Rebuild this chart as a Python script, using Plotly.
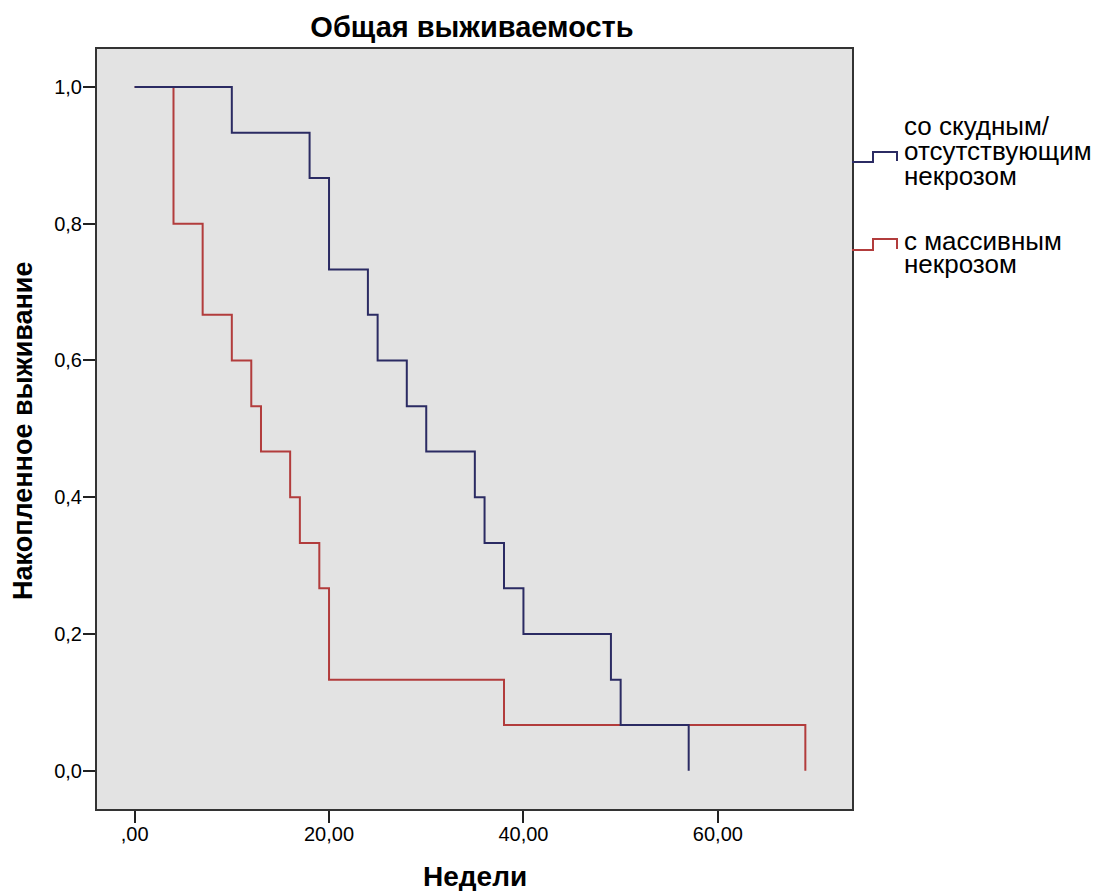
import plotly.graph_objects as go

# ---- data ----
weeks_scant = [0, 10, 18, 20, 24, 25, 28, 30, 35, 36, 38, 40, 49, 50, 57]
surv_scant = [1.0, 0.933, 0.867, 0.733, 0.667, 0.600, 0.533, 0.467, 0.400, 0.333, 0.267, 0.200, 0.133, 0.067, 0.0]

weeks_massive = [0, 4, 7, 10, 12, 13, 16, 17, 19, 20, 38, 69]
surv_massive = [1.0, 0.800, 0.667, 0.600, 0.533, 0.467, 0.400, 0.333, 0.267, 0.133, 0.067, 0.0]

x_tickvals = [0, 20, 40, 60]
x_ticktext = [",00", "20,00", "40,00", "60,00"]
y_tickvals = [0.0, 0.2, 0.4, 0.6, 0.8, 1.0]
y_ticktext = ["0,0", "0,2", "0,4", "0,6", "0,8", "1,0"]

name_scant = ["со скудным/", "отсутствующим", "некрозом"]
name_massive = ["с массивным", "некрозом"]

BLUE = "#2b2b63"
RED = "#b23c3c"
FONT = "Liberation Sans, Arial, sans-serif"

# page body has an 8px margin; work in window pixels
OFF = 8
W, H = 1106 - OFF, 891 - OFF
PL, PR, PT, PB = 97, 852, 49, 809          # plot box in window pixels
L, R, T, B = PL - OFF, W - (PR - OFF), PT - OFF, H - (PB - OFF)


def px(x):
    return (x - PL) / (PR - PL)


def py(y):
    return (PB - y) / (PB - PT)


fig = go.Figure()
fig.add_trace(go.Scatter(x=weeks_massive, y=surv_massive, mode="lines",
                         line=dict(color=RED, width=2, shape="hv"),
                         showlegend=False, hoverinfo="skip"))
fig.add_trace(go.Scatter(x=weeks_scant, y=surv_scant, mode="lines",
                         line=dict(color=BLUE, width=2, shape="hv"),
                         showlegend=False, hoverinfo="skip"))


def step_path(x0, x1, x2, ylow, yhigh):
    return (f"M {px(x0)} {py(ylow)} L {px(x1)} {py(ylow)} L {px(x1)} {py(yhigh)} "
            f"L {px(x2)} {py(yhigh)} L {px(x2)} {py(ylow - 1)}")


shapes = [
    dict(type="path", xref="paper", yref="paper",
         path=step_path(852, 873, 897, 162, 152), line=dict(color=BLUE, width=2)),
    dict(type="path", xref="paper", yref="paper",
         path=step_path(852, 873, 897, 250, 239), line=dict(color=RED, width=2)),
]

annotations = []
for i, t in enumerate(name_scant):
    annotations.append(dict(text=t, xref="paper", yref="paper", x=px(902), y=py(126 + 25 * i),
                            xanchor="left", yanchor="middle", showarrow=False,
                            font=dict(family=FONT, size=26, color="black")))
for i, t in enumerate(name_massive):
    annotations.append(dict(text=t, xref="paper", yref="paper", x=px(902), y=py(241 + 23 * i),
                            xanchor="left", yanchor="middle", showarrow=False,
                            font=dict(family=FONT, size=26, color="black")))

annotations.append(dict(text="<b>Недели</b>", xref="paper", yref="paper", x=px(475), y=py(876),
                        xanchor="center", yanchor="middle", showarrow=False,
                        font=dict(family=FONT, size=28, color="black")))
annotations.append(dict(text="<b>Накопленное выживание</b>", xref="paper", yref="paper",
                        x=px(23), y=py(431), textangle=-90,
                        xanchor="center", yanchor="middle", showarrow=False,
                        font=dict(family=FONT, size=27, color="black")))

axis_common = dict(showgrid=False, zeroline=False, ticks="outside", ticklen=12, tickwidth=2,
                   tickcolor="#222", showline=True, linecolor="#333", linewidth=2, mirror=True,
                   tickfont=dict(family=FONT, size=20, color="black"))

fig.update_layout(
    width=W, height=H, autosize=False,
    margin=dict(l=L, r=R, t=T, b=B),
    paper_bgcolor="white", plot_bgcolor="#e3e3e3",
    title=dict(text="<b>Общая выживаемость</b>", x=px(472), xref="paper", xanchor="center",
               y=1 - (27 - OFF) / H, yref="container", yanchor="middle",
               font=dict(family=FONT, size=29, color="black")),
    shapes=shapes, annotations=annotations,
    xaxis=dict(range=[-3.87, 73.8], tickvals=x_tickvals, ticktext=x_ticktext,
               ticklabelstandoff=-6, **axis_common),
    yaxis=dict(range=[-0.056, 1.0556], tickvals=y_tickvals, ticktext=y_ticktext,
               ticklabelstandoff=-3, **axis_common),
)

fig.write_html("out.html")
